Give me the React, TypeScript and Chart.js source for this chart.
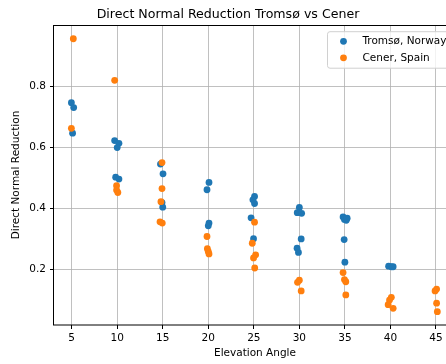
import { useEffect, useRef } from "react";
import { Chart, registerables } from "chart.js";

Chart.register(...registerables);

const chartTitle = "Direct Normal Reduction Tromsø vs Cener";
const xAxisLabel = "Elevation Angle";
const yAxisLabel = "Direct Normal Reduction";
const seriesNames = ["Tromsø, Norway", "Cener, Spain"];
const seriesColors = ["#1f77b4", "#ff7f0e"];
const xTicks = [5, 10, 15, 20, 25, 30, 35, 40, 45];
const yTicks = [0.2, 0.4, 0.6, 0.8];

const tromsoElevation = [
  4.97, 5.22, 5.1,
  9.72, 10.19, 10.0, 9.83, 10.19,
  14.75, 15.03, 14.92, 15.0,
  20.08, 19.86, 20.08, 20.0,
  25.08, 24.9, 25.08, 24.7, 24.97,
  30.0, 29.77, 30.25, 30.2, 29.75, 29.9,
  34.8, 34.95, 35.15, 35.25, 34.92, 35.0,
  39.8, 40.1, 40.3,
];
const tromsoReduction = [
  0.746, 0.73, 0.646,
  0.622, 0.613, 0.599, 0.502, 0.496,
  0.545, 0.513, 0.419, 0.404,
  0.485, 0.461, 0.352, 0.343,
  0.439, 0.428, 0.416, 0.369, 0.301,
  0.403, 0.386, 0.384, 0.3, 0.27, 0.256,
  0.372, 0.364, 0.361, 0.368, 0.298, 0.224,
  0.211, 0.209, 0.209,
];

const cenerElevation = [
  5.18, 4.97,
  9.72, 9.93, 9.93, 10.07,
  14.92, 14.92, 14.8, 14.7, 14.95,
  19.86, 19.9, 20.0, 20.08,
  25.08, 24.83, 25.2, 24.97, 25.1,
  30.0, 29.8, 30.2,
  34.8, 34.95, 35.1, 35.1,
  40.1, 39.9, 39.75, 40.3,
  44.9, 45.07, 45.07, 45.15,
];
const cenerReduction = [
  0.955, 0.662,
  0.819, 0.474, 0.46, 0.452,
  0.55, 0.465, 0.422, 0.356, 0.352,
  0.308, 0.268, 0.259, 0.251,
  0.355, 0.286, 0.248, 0.238, 0.205,
  0.165, 0.158, 0.13,
  0.19, 0.167, 0.16, 0.117,
  0.109, 0.1, 0.085, 0.073,
  0.13, 0.136, 0.09, 0.062,
];

const FONT = "DejaVu Sans";

const framePlugin = {
  id: "frameAndLegend",
  afterDraw(chart: any) {
    const { ctx, chartArea } = chart;
    const { left, top, right, bottom } = chartArea;
    ctx.save();
    ctx.strokeStyle = "#000";
    ctx.lineWidth = 1;
    ctx.strokeRect(Math.round(left) - 0.5, Math.round(top) + 0.5, Math.round(right - left), Math.round(bottom - top) - 0.5);

    // legend
    ctx.font = `10.5px "${FONT}"`;
    const datasets = chart.data.datasets;
    let tw = 0;
    datasets.forEach((d: any) => {
      tw = Math.max(tw, ctx.measureText(d.label).width);
    });
    const boxRight = right - 5;
    const textX = boxRight - 4.5 - tw;
    const markerX = textX - 19;
    const boxLeft = markerX - 16;
    const boxTop = top + 6.7;
    const rowH = 16.5;
    const boxH = 36.5;
    const r = 2.5;
    ctx.beginPath();
    ctx.moveTo(boxLeft + r, boxTop);
    ctx.lineTo(boxRight - r, boxTop);
    ctx.quadraticCurveTo(boxRight, boxTop, boxRight, boxTop + r);
    ctx.lineTo(boxRight, boxTop + boxH - r);
    ctx.quadraticCurveTo(boxRight, boxTop + boxH, boxRight - r, boxTop + boxH);
    ctx.lineTo(boxLeft + r, boxTop + boxH);
    ctx.quadraticCurveTo(boxLeft, boxTop + boxH, boxLeft, boxTop + boxH - r);
    ctx.lineTo(boxLeft, boxTop + r);
    ctx.quadraticCurveTo(boxLeft, boxTop, boxLeft + r, boxTop);
    ctx.closePath();
    ctx.fillStyle = "rgba(255,255,255,0.8)";
    ctx.fill();
    ctx.strokeStyle = "#d0d0d0";
    ctx.lineWidth = 1;
    ctx.stroke();

    datasets.forEach((d: any, i: number) => {
      const cy = boxTop + 9.6 + i * rowH;
      ctx.beginPath();
      ctx.arc(markerX, cy, 3.4, 0, Math.PI * 2);
      ctx.fillStyle = d.backgroundColor;
      ctx.fill();
      ctx.fillStyle = "#000";
      ctx.textBaseline = "middle";
      ctx.textAlign = "left";
      ctx.fillText(d.label, textX, cy);
    });
    ctx.restore();
  },
};

export default function App() {
  const ref = useRef<HTMLCanvasElement | null>(null);

  useEffect(() => {
    if (!ref.current) return;
    const toPts = (xs: number[], ys: number[]) => xs.map((x, i) => ({ x, y: ys[i] }));
    const gridCfg = {
      color: "#b0b0b0",
      lineWidth: 0.8,
      drawTicks: true,
      tickLength: 4,
      tickColor: "#000",
      tickWidth: 1,
    };
    const chart = new Chart(ref.current, {
      type: "scatter",
      data: {
        datasets: [
          {
            label: seriesNames[0],
            data: toPts(tromsoElevation, tromsoReduction),
            backgroundColor: seriesColors[0],
            borderWidth: 0,
            pointRadius: 3.4,
            order: 1,
          },
          {
            label: seriesNames[1],
            data: toPts(cenerElevation, cenerReduction),
            backgroundColor: seriesColors[1],
            borderWidth: 0,
            pointRadius: 3.4,
            order: 0,
          },
        ],
      },
      options: {
        animation: false,
        responsive: false,
        maintainAspectRatio: false,
        devicePixelRatio: 1,
        layout: { padding: { left: 0, top: 0, bottom: 0, right: 54 } },
        plugins: {
          legend: { display: false },
          tooltip: { enabled: false },
          title: {
            display: true,
            text: chartTitle,
            color: "#000",
            font: { family: FONT, size: 12.6, weight: "normal" },
            padding: { top: 7, bottom: 2.88 },
          },
        },
        scales: {
          x: {
            type: "linear",
            min: 3.06,
            max: 47.2,
            afterBuildTicks: (s: any) => {
              s.ticks = xTicks.map((v) => ({ value: v }));
            },
            afterFit: (s: any) => {
              s.height = 39;
            },
            grid: gridCfg,
            border: { display: false },
            ticks: {
              color: "#000",
              font: { family: FONT, size: 10.5 },
              padding: 3,
              maxRotation: 0,
            },
            title: {
              display: true,
              text: xAxisLabel,
              color: "#000",
              font: { family: FONT, size: 10.5 },
              padding: { top: 0, bottom: 4 },
            },
          },
          y: {
            type: "linear",
            min: 0.0185,
            max: 1.0,
            afterBuildTicks: (s: any) => {
              s.ticks = yTicks.map((v) => ({ value: v }));
            },
            afterFit: (s: any) => {
              s.width = 54;
            },
            grid: gridCfg,
            border: { display: false },
            ticks: {
              color: "#000",
              font: { family: FONT, size: 10.5 },
              padding: 4,
              callback: (v: any) => Number(v).toFixed(1),
            },
            title: {
              display: true,
              text: yAxisLabel,
              color: "#000",
              font: { family: FONT, size: 10.5 },
              padding: { top: 10, bottom: 0 },
            },
          },
        },
      },
      plugins: [framePlugin],
    } as any);
    return () => chart.destroy();
  }, []);

  return (
    <div
      style={{
        position: "fixed",
        left: 0,
        top: 0,
        width: 446,
        height: 364,
        overflow: "hidden",
        background: "#fff",
      }}
    >
      <canvas ref={ref} width={510} height={364} style={{ width: 510, height: 364, display: "block" }} />
    </div>
  );
}
